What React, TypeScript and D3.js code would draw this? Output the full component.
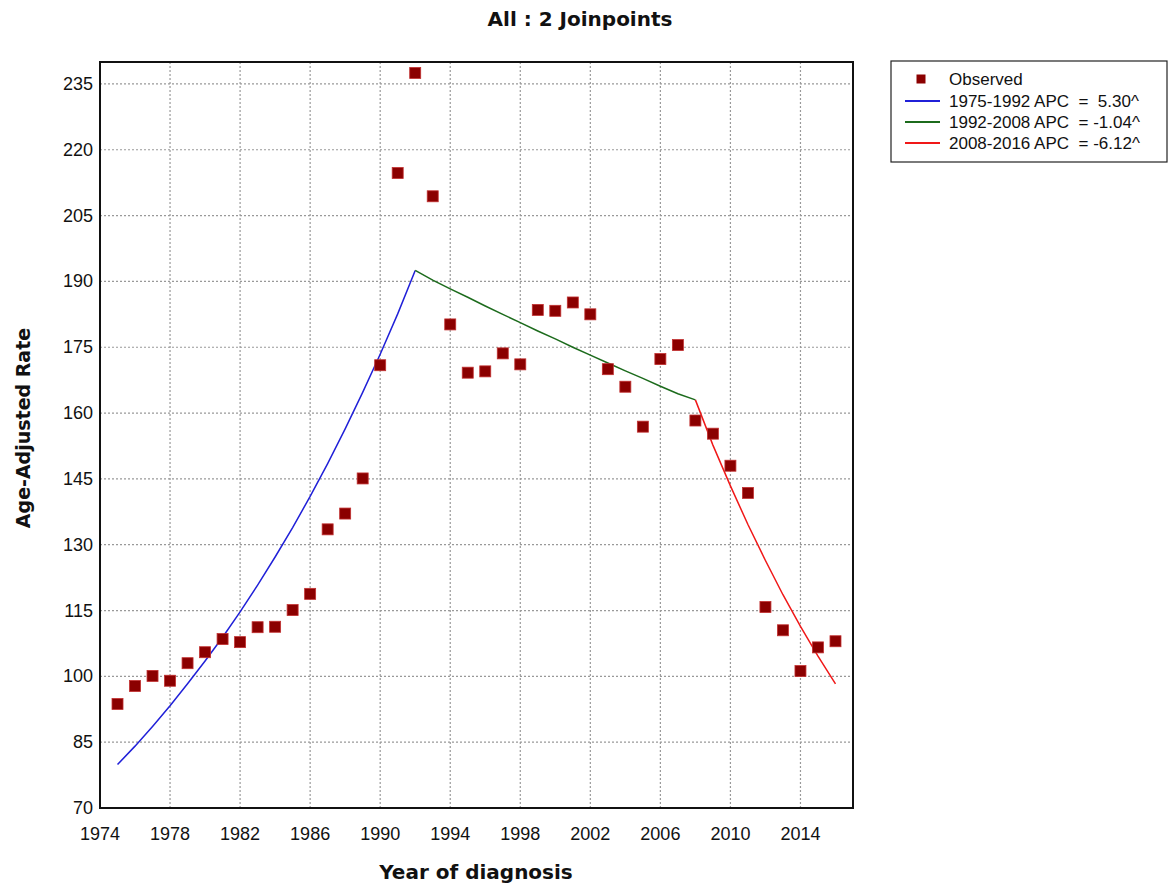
import React from 'react';
import * as d3 from 'd3';

const years = d3.range(1975, 2017);
const observed = [
  93.7, 97.8, 100.1, 99.0, 103.0, 105.5, 108.5, 107.8, 111.2, 111.3,
  115.1, 118.8, 133.5, 137.1, 145.1, 170.9, 214.7, 237.5, 209.4, 180.2,
  169.2, 169.5, 173.6, 171.1, 183.5, 183.3, 185.2, 182.5, 170.0, 166.0,
  156.9, 172.3, 175.5, 158.3, 155.3, 148.0, 141.8, 115.8, 110.5, 101.2,
  106.6, 108.0,
];

// fitted values read along each segment
const seg1Years = d3.range(1975, 1993);
const seg1Fit = [79.9, 84.1, 88.6, 93.3, 98.3, 103.5, 108.9, 114.7, 120.8, 127.2, 133.9, 141.0, 148.5, 156.4, 164.7, 173.4, 182.6, 192.5];
const seg2Years = d3.range(1992, 2009);
const seg2Fit = [192.5, 190.3, 188.3, 186.4, 184.4, 182.5, 180.6, 178.7, 176.9, 175.0, 173.2, 171.4, 169.6, 167.9, 166.1, 164.4, 163.0];
const seg3Years = d3.range(2008, 2017);
const seg3Fit = [163.0, 152.7, 143.4, 134.6, 126.4, 118.6, 111.4, 104.6, 98.3];

const segments = [
  { label: '1975-1992 APC  =  5.30^', color: '#2020d8', years: seg1Years, values: seg1Fit },
  { label: '1992-2008 APC  = -1.04^', color: '#1c6b1c', years: seg2Years, values: seg2Fit },
  { label: '2008-2016 APC  = -6.12^', color: '#f01818', years: seg3Years, values: seg3Fit },
];

const xTicks = d3.range(1974, 2017, 4);
const yTicks = d3.range(70, 236, 15);

const W = 1171, H = 893;
const left = 100, right = 853, top = 62, bottom = 808;

export default function App() {
  const x = d3.scaleLinear().domain([1974, 2017]).range([left, right]);
  const y = d3.scaleLinear().domain([70, 240]).range([bottom, top]);
  const line = d3.line<[number, number]>().x(d => x(d[0])).y(d => y(d[1]));
  const tickFont = '"Liberation Sans", Arial, sans-serif';
  const boldFont = '"DejaVu Sans", Verdana, sans-serif';
  const ms = 11;

  return (
    <svg width={W} height={H} style={{ position: 'absolute', left: 0, top: 0, background: '#fff' }}>
      <rect x={0} y={0} width={W} height={H} fill="#fff" />
      <text x={580} y={26} textAnchor="middle" fontFamily={boldFont} fontWeight="bold" fontSize={20} fill="#111">All : 2 Joinpoints</text>

      {/* grid */}
      {xTicks.slice(1).map(t => (
        <line key={'gx' + t} x1={x(t)} x2={x(t)} y1={top} y2={bottom} stroke="#999" strokeWidth={1.2} strokeDasharray="2,2" />
      ))}
      {yTicks.slice(1).map(t => (
        <line key={'gy' + t} x1={left} x2={right} y1={y(t)} y2={y(t)} stroke="#999" strokeWidth={1.2} strokeDasharray="2,2" />
      ))}

      {/* fitted lines */}
      {segments.map(s => (
        <path key={s.label} d={line(s.years.map((yr, i) => [yr, s.values[i]]) as [number, number][]) || ''} fill="none" stroke={s.color} strokeWidth={1.5} />
      ))}

      {/* observed */}
      {years.map((yr, i) => (
        <rect key={yr} x={x(yr) - ms / 2} y={y(observed[i]) - ms / 2} width={ms} height={ms} fill="#8b0000" stroke="#c23030" strokeWidth={0.8} />
      ))}

      {/* frame */}
      <rect x={left} y={top} width={right - left} height={bottom - top} fill="none" stroke="#111" strokeWidth={2} />

      {/* y ticks */}
      {yTicks.map(t => (
        <text key={'ty' + t} x={93} y={y(t) + 6} textAnchor="end" fontFamily={tickFont} fontSize={18} fill="#111">{t}</text>
      ))}
      {/* x ticks */}
      {xTicks.map(t => (
        <text key={'tx' + t} x={x(t)} y={840} textAnchor="middle" fontFamily={tickFont} fontSize={18} fill="#111">{t}</text>
      ))}

      <text x={476} y={879} textAnchor="middle" fontFamily={boldFont} fontWeight="bold" fontSize={20} fill="#111">Year of diagnosis</text>
      <text transform="translate(30,428) rotate(-90)" textAnchor="middle" fontFamily={boldFont} fontWeight="bold" fontSize={19} fill="#111">Age-Adjusted Rate</text>

      {/* legend */}
      <g>
        <rect x={891} y={61} width={276} height={101} fill="#fff" stroke="#222" strokeWidth={1.2} />
        <rect x={921 - 4.5} y={79 - 4.5} width={9} height={9} fill="#8b0000" />
        <text x={949} y={85} fontFamily={tickFont} fontSize={17} fill="#111">Observed</text>
        {segments.map((s, i) => (
          <g key={'lg' + i}>
            <line x1={905} x2={940} y1={101 + i * 21} y2={101 + i * 21} stroke={s.color} strokeWidth={2} />
            <text x={949} y={107 + i * 21} fontFamily={tickFont} fontSize={17} fill="#111" style={{ whiteSpace: 'pre' }}>{s.label}</text>
          </g>
        ))}
      </g>
    </svg>
  );
}
